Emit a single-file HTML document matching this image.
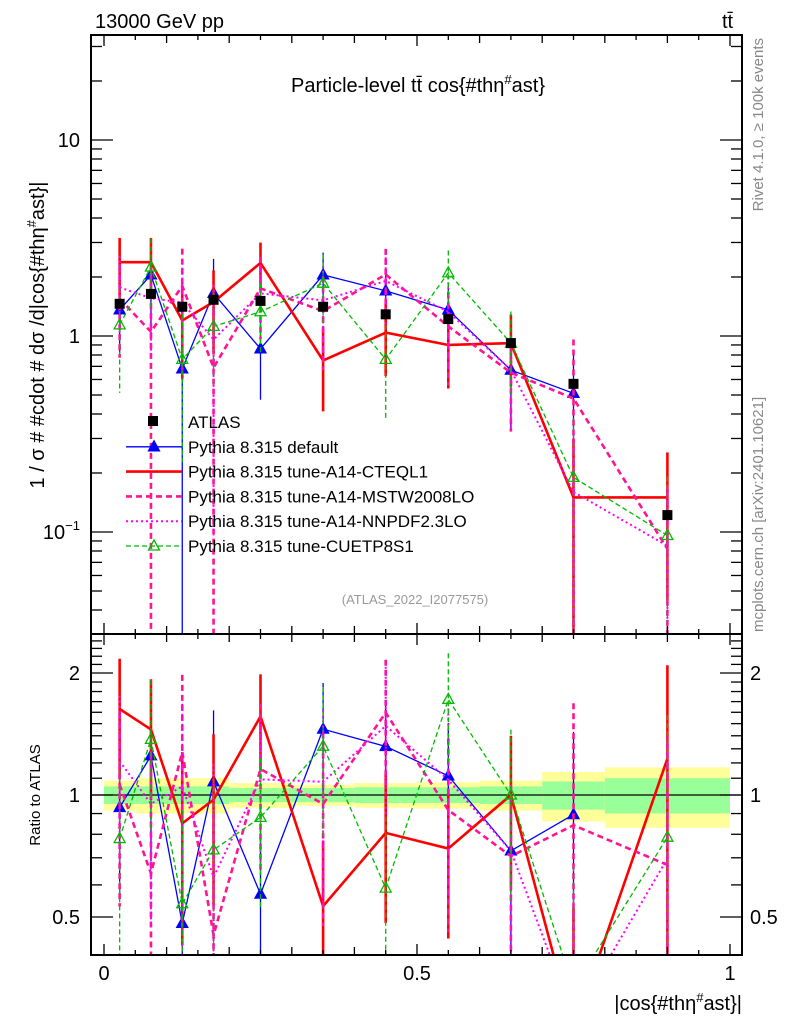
<!DOCTYPE html>
<html><head><meta charset="utf-8"><style>
html,body{margin:0;background:#fff;overflow:hidden;width:786px;height:1024px}
svg{display:block;font-family:"Liberation Sans",sans-serif}
</style></head><body>
<svg id="c" width="786" height="1024" viewBox="0 0 786 1024">
<defs>
<clipPath id="cm"><rect x="91" y="35" width="651" height="599"/></clipPath>
<clipPath id="cr"><rect x="91" y="634" width="651" height="321"/></clipPath>
</defs>
<g id="bands" clip-path="url(#cr)"></g>
<line x1="91" x2="742" y1="795" y2="795" stroke="#000" stroke-width="1.2"/>
<g id="marks"></g>
<g id="axes"></g>
<text x="95" y="28" font-size="20">13000 GeV pp</text>
<text x="722" y="28" font-size="20">tt̄</text>
<text x="418" y="92" font-size="20" text-anchor="middle">Particle-level tt̄ cos{#thη<tspan dy="-8" font-size="13">#</tspan><tspan dy="8">ast}</tspan></text>
<text transform="translate(44,335) rotate(-90)" font-size="20" text-anchor="middle">1 / σ # #cdot # dσ /d|cos{#thη<tspan dy="-8" font-size="13">#</tspan><tspan dy="8">ast}|</tspan></text>
<text transform="translate(40,795) rotate(-90)" font-size="15" text-anchor="middle">Ratio to ATLAS</text>
<text x="742" y="1010" font-size="20" text-anchor="end">|cos{#thη<tspan dy="-8" font-size="13">#</tspan><tspan dy="8">ast}|</tspan></text>
<text transform="translate(763,38) rotate(-90)" font-size="15" fill="#888" text-anchor="end">Rivet 4.1.0, ≥ 100k events</text>
<text transform="translate(763,632) rotate(-90)" font-size="15" fill="#888">mcplots.cern.ch [arXiv:2401.10621]</text>
<text x="415" y="604" font-size="13" fill="#999" text-anchor="middle">(ATLAS_2022_I2077575)</text>
<g id="legend"></g>
</svg>
<script>
const xs = [0.025,0.075,0.125,0.175,0.25,0.35,0.45,0.55,0.65,0.75,0.9];
const edges = [0,0.05,0.1,0.15,0.2,0.3,0.4,0.5,0.6,0.7,0.8,1.0];
const dataVals = [1.46,1.64,1.41,1.53,1.51,1.41,1.29,1.22,0.92,0.57,0.122];
const totErr = [0.085,0.1,0.1,0.1,0.07,0.06,0.07,0.075,0.085,0.14,0.17];
const statErr = [0.05,0.05,0.05,0.05,0.04,0.04,0.045,0.045,0.05,0.08,0.1];
const defaultVals = [1.36,2.05,0.68,1.65,0.86,2.05,1.70,1.36,0.67,0.51,null];
const defaultErr = [0.4,0.45,1.0,0.5,0.45,0.3,0.3,0.35,0.5,0.6,0];
const cteqVals = [2.38,2.38,1.2,1.49,2.36,0.75,1.04,0.9,0.92,0.15,0.15];
const cteqErr = [0.33,0.33,0.5,0.45,0.27,0.45,0.4,0.4,0.4,1.0,0.7];
const mstwVals = [1.55,1.05,1.80,0.69,1.75,1.34,2.06,1.12,0.65,0.48,0.082];
const mstwErr = [0.5,1.0,0.55,1.0,0.45,0.5,0.35,0.5,0.5,1.0,1.0];
const nnpdfVals = [1.77,1.56,1.48,0.96,1.65,1.52,1.91,1.33,0.67,0.16,0.085];
const nnpdfErr = [0.45,0.5,0.6,0.9,0.4,0.5,0.4,0.5,0.5,1.0,1.0];
const cuetVals = [1.14,2.25,0.76,1.12,1.33,1.86,0.76,2.1,0.92,0.19,0.096];
const cuetErr = [0.55,0.4,0.7,0.5,0.4,0.4,0.5,0.3,0.45,1.0,1.0];
const mainTickLabels = ["10","1"];
const ratioTickLabels = ["2","1","0.5"];
const xTickLabels = ["0","0.5","1"];

const NS="http://www.w3.org/2000/svg";
const X = v => 104 + 626*v;
const YM = v => 336 - 196*Math.log10(v);
const YR = r => 795 - 122*Math.log2(r);
const cl = (y,lo,hi) => Math.max(lo, Math.min(hi, y));
function mk(tag, attrs, parent){const e=document.createElementNS(NS,tag);for(const k in attrs)e.setAttribute(k,attrs[k]);parent.appendChild(e);return e;}
const bands=document.getElementById('bands'), marks=document.getElementById('marks'), axes=document.getElementById('axes'), legend=document.getElementById('legend');

for(let i=0;i<xs.length;i++){
  const x0=X(edges[i]), x1=X(edges[i+1]);
  const y=mk('rect',{x:x0,y:YR(1+totErr[i]),width:x1-x0,height:YR(1-totErr[i])-YR(1+totErr[i]),fill:'#ffff99'},bands);
  
  
  const g=mk('rect',{x:x0,y:YR(1+statErr[i]),width:x1-x0,height:YR(1-statErr[i])-YR(1+statErr[i]),fill:'#99ff99'},bands);
  
  
}

const series=[
 {name:'pythia-default',vals:defaultVals,err:defaultErr,color:'#0000ff',w:1.3,dash:'',marker:'tri'},
 {name:'tune-a14-cteql1',vals:cteqVals,err:cteqErr,color:'#ff0000',w:2.6,dash:'',marker:''},
 {name:'tune-a14-mstw2008lo',vals:mstwVals,err:mstwErr,color:'#ff1493',w:2.6,dash:'6,4',marker:''},
 {name:'tune-a14-nnpdf23lo',vals:nnpdfVals,err:nnpdfErr,color:'#ff00ff',w:2,dash:'2,3',marker:''},
 {name:'tune-cuetp8s1',vals:cuetVals,err:cuetErr,color:'#00bb00',w:1.3,dash:'5,3',marker:'otri'}
];
function tri(p,cx,cy,s,open,color,name){
  const t=mk('polygon',{points:`${cx},${cy-6} ${cx-5.5},${cy+4} ${cx+5.5},${cy+4}`,fill:open?'none':color,stroke:color,'stroke-width':1.3},p);
  
  
}
function drawPanel(clip, yf, ratio, top, bot){
  const g=mk('g',{'clip-path':clip},marks);
  for(const s of series){
    const pts=[];
    for(let i=0;i<xs.length;i++){
      const v=s.vals[i]; if(v==null) continue;
      const c=ratio? v/dataVals[i] : v;
      const hi=c*(1+s.err[i]), lo=c*(1-s.err[i]);
      const yl = lo>0? cl(yf(lo),top-5,bot+5) : bot+5;
      const eb=mk('line',{x1:X(xs[i]),x2:X(xs[i]),y1:cl(yf(hi),top-5,bot+5),y2:yl,stroke:s.color,'stroke-width':s.w,'stroke-dasharray':s.dash},g);
      
      
      pts.push([X(xs[i]),cl(yf(c),top-300,bot+300)]);
    }
    const pl=mk('polyline',{points:pts.map(p=>p.join(',')).join(' '),fill:'none',stroke:s.color,'stroke-width':s.w,'stroke-dasharray':s.dash},g);
    
    
    if(s.marker) for(const p of pts) if(p[1]>top&&p[1]<bot) tri(g,p[0],p[1],6,s.marker==='otri',s.color,s.name+'-marker');
  }
  if(!ratio){
    for(let i=0;i<xs.length;i++){
      const r=mk('rect',{x:X(xs[i])-5,y:YM(dataVals[i])-5,width:10,height:10,fill:'#000'},g);
      
      
    }
  }
}
drawPanel('url(#cm)',YM,false,35,634);
drawPanel('url(#cr)',YR,true,634,955);

for(const [y0,y1] of [[35,634],[634,955]]){
  const f=mk('rect',{x:91,y:y0,width:651,height:y1-y0,fill:'none',stroke:'#000','stroke-width':2},axes);
  
  
}
function tick(x1,y1,x2,y2){const t=mk('line',{x1,y1,x2,y2,stroke:'#000','stroke-width':1.3},axes);}
for(let k=0;k<=20;k++){
  const v=k*0.05, x=X(v), L=(k%10===0)?11:(k%2===0?8:5);
  for(const [yb,dir] of [[35,1],[634,-1],[634,1],[955,-1]]) tick(x,yb,x,yb+dir*L);
}
xTickLabels.forEach((s,i)=>{const t=mk('text',{x:X(i*0.5),y:980,'font-size':20,'text-anchor':'middle'},axes);t.textContent=s;});
for(let d=-2;d<=1;d++) for(let m=1;m<=9;m++){
  const v=m*Math.pow(10,d), y=YM(v); if(y<35||y>634) continue;
  const L=m===1?22:11; tick(91,y,91+L,y); tick(742,y,742-L,y);
}
mainTickLabels.forEach((s,i)=>{const t=mk('text',{x:80,y:YM(i===0?10:1)+7,'font-size':20,'text-anchor':'end'},axes);t.textContent=s;});
{const t=mk('text',{x:80,y:YM(0.1)+7,'font-size':20,'text-anchor':'end'},axes);t.innerHTML='10<tspan dy="-9" font-size="13">−1</tspan>';}
for(let r=0.4;r<=2.5001;r+=0.1){
  const y=YR(r); if(y<634||y>955) continue;
  const major=[0.5,1,2].some(q=>Math.abs(q-r)<1e-6), L=major?22:11;
  tick(91,y,91+L,y); tick(742,y,742-L,y);
}
ratioTickLabels.forEach(s=>{const v=parseFloat(s);
  const a=mk('text',{x:80,y:YR(v)+7,'font-size':20,'text-anchor':'end'},axes);a.textContent=s;
  const b=mk('text',{x:750,y:YR(v)+7,'font-size':20},axes);b.textContent=s;});

const leg=[['ATLAS','data'],['Pythia 8.315 default',0],['Pythia 8.315 tune-A14-CTEQL1',1],['Pythia 8.315 tune-A14-MSTW2008LO',2],['Pythia 8.315 tune-A14-NNPDF2.3LO',3],['Pythia 8.315 tune-CUETP8S1',4]];
leg.forEach((e,i)=>{
  const y=422+i*24.8;
  const g=mk('g',{},legend);
  
  
  if(e[1]==='data'){mk('rect',{x:148,y:y-6,width:10,height:10,fill:'#000'},g);}
  else{const s=series[e[1]];mk('line',{x1:126,x2:182,y1:y,y2:y,stroke:s.color,'stroke-width':s.w,'stroke-dasharray':s.dash},g);
    if(s.marker) tri(g,154,y,6,s.marker==='otri',s.color,'legend-marker');}
  const t=mk('text',{x:188,y:y+6,'font-size':17},g);t.textContent=e[0];
});
</script>
</body></html>
